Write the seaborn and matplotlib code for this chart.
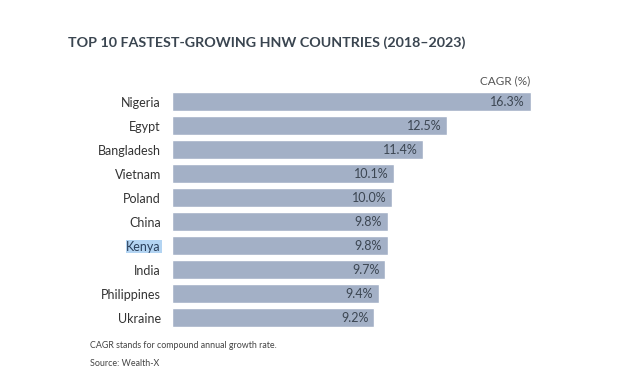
import pandas as pd
import matplotlib.pyplot as plt
import seaborn as sns

countries = ["Nigeria", "Egypt", "Bangladesh", "Vietnam", "Poland",
             "China", "Kenya", "India", "Philippines", "Ukraine"]
cagr = [16.3, 12.5, 11.4, 10.1, 10.0, 9.8, 9.8, 9.7, 9.4, 9.2]

title = "TOP 10 FASTEST-GROWING HNW COUNTRIES (2018\u20132023)"
note = "CAGR stands for compound annual growth rate."
source = "Source: Wealth-X"

df = pd.DataFrame({"country": countries, "cagr": cagr})

sns.set_style("white")
plt.rcParams["font.family"] = ["Lato", "DejaVu Sans"]

bar_color = "#a3b0c6"
text_dark = "#3c4652"

fig = plt.figure(figsize=(6.2, 3.72), dpi=100)
ax = fig.add_axes([0.2774, 0.1142, 0.69, 0.6452])

sns.barplot(data=df, x="cagr", y="country", color=bar_color, width=0.8,
            saturation=1, ax=ax)
ax.set_xlim(0, 19.45)
ax.set_xlabel("")
ax.set_ylabel("")
ax.set_xticks([])
sns.despine(ax=ax, left=True, bottom=True)
ax.tick_params(axis="y", length=0, pad=8, labelsize=9, labelcolor="#333333")

for lbl in ax.get_yticklabels():
    if lbl.get_text() == "Kenya":
        lbl.set_bbox(dict(facecolor="#b3d4f2", edgecolor="none", pad=0.5))
        lbl.set_color("#2a3f5a")

for i, v in enumerate(cagr):
    ax.text(v - 0.25, i, f"{v}%", ha="right", va="center",
            fontsize=9, color=text_dark)

ax.text(cagr[0], -0.62, "CAGR (%)", ha="right", va="bottom",
        fontsize=8.5, color="#555555")

fig.text(68 / 620, 1 - 43 / 372, title, ha="left", va="center",
         fontsize=10.3, fontweight="bold", color="#3a4550")
fig.text(90 / 620, 1 - 345 / 372, note, ha="left", va="center",
         fontsize=6.4, color="#444444")
fig.text(90 / 620, 1 - 364 / 372, source, ha="left", va="center",
         fontsize=6.4, color="#444444")

fig.savefig("out.png", dpi=100)
